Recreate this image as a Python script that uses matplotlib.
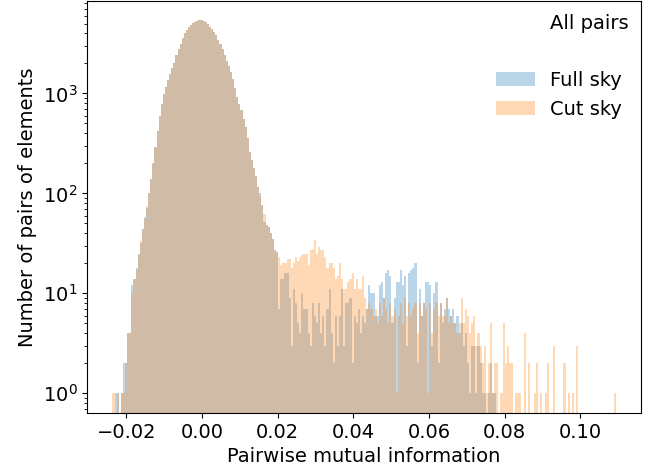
import numpy as np
import matplotlib.pyplot as plt
from matplotlib.patches import Patch

plt.rcParams['font.size'] = 14

# histogram range (mutual information), 240 equal bins
x_min, x_max = -0.0237, 0.1094

# counts per bin
full_sky = [
    0, 1, 1, 0, 1, 2, 2, 4, 4, 12,
    14, 18, 25, 32, 44, 58, 72, 100, 140, 200,
    290, 420, 590, 780, 980, 1150, 1350, 1550, 1780, 2000,
    2400, 2750, 3150, 3550, 3980, 4270, 4570, 4840, 5010, 5190,
    5310, 5370, 5410, 5310, 5130, 4900, 4620, 4370, 4070, 3800,
    3430, 3090, 2750, 2400, 2090, 1860, 1620, 1380, 1120, 910,
    780, 680, 560, 460, 355, 260, 215, 180, 150, 117,
    100, 76, 52, 48, 46, 40, 35, 27, 26, 7,
    14, 14, 16, 16, 9, 3, 11, 8, 5, 4,
    10, 7, 7, 4, 3, 8, 6, 5, 8, 4,
    6, 3, 7, 11, 4, 2, 6, 3, 6, 11,
    3, 8, 8, 9, 2, 6, 5, 7, 4, 6,
    5, 7, 12, 10, 10, 6, 6, 12, 13, 9,
    16, 17, 15, 5, 9, 13, 13, 17, 12, 15,
    3, 16, 17, 18, 20, 2, 11, 6, 8, 13,
    13, 12, 3, 10, 13, 2, 8, 5, 7, 9,
    7, 6, 7, 5, 6, 4, 5, 3, 4, 2,
    1, 3, 3, 1, 3, 2, 1, 1, 0, 1,
    2, 1, 1, 0, 0, 0, 0, 0, 0, 0,
] + [0] * 50

cut_sky = [
    1, 0, 1, 0, 1, 1, 2, 4, 4, 10,
    14, 17, 24, 33, 44, 56, 74, 100, 138, 198,
    290, 420, 590, 780, 980, 1150, 1350, 1550, 1780, 2000,
    2400, 2750, 3150, 3550, 3980, 4270, 4570, 4840, 5010, 5190,
    5310, 5370, 5410, 5310, 5130, 4900, 4620, 4370, 4070, 3800,
    3430, 3090, 2750, 2400, 2090, 1860, 1620, 1380, 1120, 910,
    780, 680, 560, 460, 355, 260, 215, 180, 150, 117,
    95, 76, 62, 48, 46, 40, 35, 27, 26, 23,
    19, 20, 20, 22, 22, 18, 20, 23, 21, 23,
    24, 25, 25, 19, 27, 28, 34, 25, 29, 27,
    27, 23, 18, 20, 20, 18, 14, 15, 20, 14,
    11, 11, 13, 14, 16, 11, 14, 11, 11, 15,
    9, 7, 8, 7, 6, 7, 5, 8, 6, 9,
    7, 5, 8, 6, 7, 1, 6, 8, 5, 9,
    6, 8, 6, 7, 8, 4, 8, 6, 8, 7,
    1, 8, 4, 7, 8, 6, 8, 6, 6, 9,
    5, 6, 5, 5, 4, 5, 9, 5, 7, 6,
    4, 5, 6, 3, 4, 3, 2, 3, 1, 2,
    5, 1, 2, 2, 0, 1, 5, 2, 3, 2,
    2, 0, 1, 1, 1, 0, 4, 0, 2, 0,
    0, 1, 2, 0, 1, 0, 1, 2, 0, 0,
    3, 0, 0, 0, 0, 2, 0, 1, 0, 1,
    0, 3, 0, 0, 0, 0, 0, 0, 0, 0,
    0, 0, 0, 0, 0, 0, 0, 0, 0, 1,
]

edges = np.linspace(x_min, x_max, len(full_sky) + 1)
centers = 0.5 * (edges[:-1] + edges[1:])

fig = plt.figure(figsize=(6.59, 4.75), dpi=100)
ax = fig.add_axes([0.1325, 0.1305, 0.8402, 0.8674])

ax.hist(centers, bins=edges, weights=full_sky, alpha=0.3, log=True, label='Full sky')
ax.hist(centers, bins=edges, weights=cut_sky, alpha=0.3, log=True, label='Cut sky')

ax.set_ylim(0.635, 8400)
ax.set_xlabel('Pairwise mutual information')
ax.set_ylabel('Number of pairs of elements')

# "All pairs" heading plus a blank row above the two entries
h, l = ax.get_legend_handles_labels()
blank = Patch(color='none')
ax.legend([blank, blank] + h, ['All pairs', ''] + l, loc='upper right',
          bbox_to_anchor=(1.01, 1.012), frameon=False)

fig.savefig('out.png', dpi=100)
